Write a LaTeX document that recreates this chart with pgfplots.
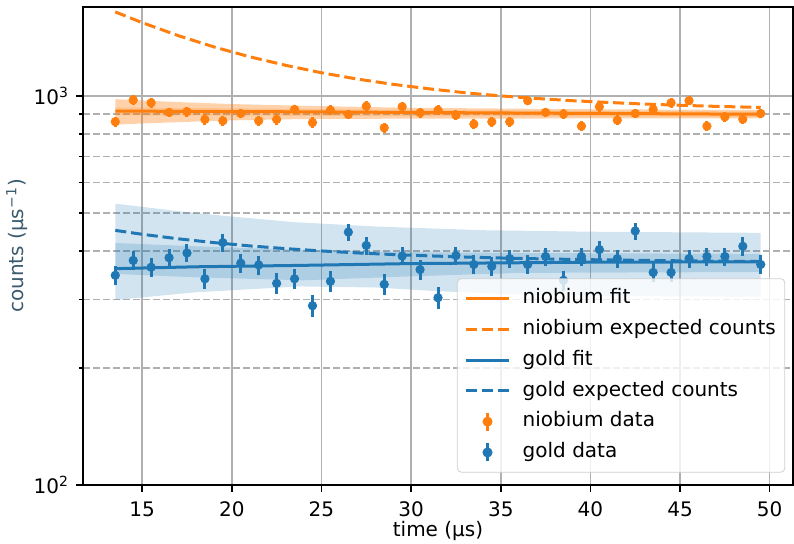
\documentclass[border=0pt]{standalone}
\usepackage{fontspec}
\setmainfont{DejaVu Sans}
\usepackage{pgfplots}
\usepackage{pgfplotstable}
\pgfplotsset{compat=1.18}
\definecolor{tabblue}{HTML}{1F77B4}
\definecolor{taborange}{HTML}{FF7F0E}
\definecolor{gridgray}{HTML}{B0B0B0}
\definecolor{labcol}{HTML}{3B5A6E}

\pgfplotstableread{
t y e
13.5 859 26
14.5 977 27
15.5 961 27
16.5 908 26
17.5 912 26
18.5 871 26
19.5 864 26
20.5 902 26
21.5 864 26
22.5 871 26
23.5 924 26
24.5 855 26
25.5 920 26
26.5 897 26
27.5 942 27
28.5 829 25
29.5 939 27
30.5 906 26
31.5 920 26
32.5 893 26
33.5 847 26
34.5 859 26
35.5 859 26
36.5 973 27
37.5 908 26
38.5 899 26
39.5 837 25
40.5 939 27
41.5 867 26
42.5 902 26
43.5 924 26
44.5 961 27
45.5 973 27
46.5 837 25
47.5 884 26
48.5 872 26
49.5 902 26
}\nbdata

\pgfplotstableread{
t y e
13.5 346 20
14.5 378 21
15.5 363 21
16.5 384 21
17.5 395 21
18.5 339 20
19.5 420 22
20.5 372 21
21.5 368 21
22.5 330 20
23.5 339 20
24.5 289 19
25.5 334 20
26.5 447 23
27.5 413 22
28.5 328 20
29.5 388 21
30.5 358 21
31.5 303 19
32.5 389 21
33.5 369 21
34.5 365 21
35.5 382 21
36.5 369 21
37.5 387 21
38.5 336 20
39.5 387 21
40.5 403 22
41.5 382 21
42.5 450 23
43.5 352 20
44.5 352 20
45.5 382 21
46.5 387 21
47.5 387 21
48.5 411 22
49.5 369 21
}\audata

\begin{document}
\begin{tikzpicture}
\begin{axis}[
  scale only axis, width=355pt, height=239pt,
  ymode=log, xmin=11.7, xmax=51.3, ymin=100, ymax=1695,
  xtick={15,20,...,50},
  ytick={100,1000}, yticklabels={10\textsuperscript{2},10\textsuperscript{3}},
  minor ytick={200,300,400,500,600,700,800,900},
  /pgf/number format/assume math mode=true,
  xticklabel style={yshift=-1.5pt},
  tick pos=left, tick align=outside,
  major tick length=3.5pt, minor tick length=2pt,
  every tick/.style={black, line width=0.8pt},
  axis line style={line width=0.8pt},
  xmajorgrids, ymajorgrids, yminorgrids,
  major grid style={gridgray, line width=0.8pt},
  minor grid style={gridgray, line width=0.8pt, dash pattern=on 3.3pt off 1.7pt},
  xlabel={time (µs)},
  ylabel={counts (µs\textsuperscript{−1})},
  xlabel style={at={(axis description cs:0.5,-0.097)}, anchor=center},
  ylabel style={at={(axis description cs:-0.093,0.5)}, anchor=center, text=labcol},
  legend cell align=left,
  legend style={at={(0.989,0.026)}, anchor=south east, draw=gridgray!60,
    rounded corners=2pt, fill=white, fill opacity=0.8, text opacity=1,
    inner xsep=3.5pt, inner ysep=4pt, row sep=3.7pt,
    /tikz/every odd column/.append style={column sep=5pt},
    nodes={inner sep=1pt, text height=7.5pt, text depth=2.2pt}},
  legend image code/.code={\draw[#1] (0pt,0pt) -- (21.7pt,0pt);},
]
% bands
\addplot[draw=none, fill=tabblue, fill opacity=0.2, forget plot] coordinates {
(13.5,529) (15,519) (17,506) (20,490) (23.5,474) (28,462) (34,452) (40,448) (49.5,445)
(49.5,305) (42,306) (36,309) (31.5,315) (28,322) (23.8,324) (18,313) (13.5,299)} -- cycle;
\addplot[draw=none, fill=tabblue, fill opacity=0.2, forget plot] coordinates {
(13.5,419) (18,411) (24,402) (30,397) (36,395) (49.5,393)
(49.5,353) (36,351) (30,344) (24,336) (18,342) (13.5,349)} -- cycle;
\addplot[draw=none, fill=taborange, fill opacity=0.35, forget plot] coordinates {
(13.5,982) (17,965) (20,954) (24,944) (30,933) (40,925) (49.5,921)
(49.5,876) (40,876) (30,875) (24,873) (20,866) (17,857) (13.5,845)} -- cycle;
\addplot[draw=none, fill=taborange, fill opacity=0.2, forget plot] coordinates {
(13.5,935) (30,922) (49.5,913) (49.5,884) (30,888) (13.5,893)} -- cycle;
% fits
\addplot[taborange, line width=1.5pt] coordinates {
(13.5,915) (24,911) (35,905) (49.5,898)};
\addlegendentry{niobium fit}
\addplot[taborange, line width=1.5pt, dash pattern=on 5.55pt off 2.4pt] coordinates {
(13.5,1646) (15,1545) (17,1431) (19,1338) (21,1262) (23,1200) (25,1148) (27,1106)
(29,1072) (31,1044) (33,1020) (35,1001) (37,986) (39,973) (41,963) (43,954)
(45,947) (47,941) (49.5,935)};
\addlegendentry{niobium expected counts}
\addplot[tabblue, line width=1.5pt] coordinates {
(13.5,360) (18,364) (23.8,367) (30,371) (40,374) (49.5,375)};
\addlegendentry{gold fit}
\addplot[tabblue, line width=1.5pt, dash pattern=on 5.55pt off 2.4pt] coordinates {
(13.5,451.5) (15,441.2) (17,429.6) (19,420) (21,411.9) (23,405.3) (25,399.8)
(27,395.2) (29,391.4) (31,388.3) (33,385.7) (35,383.5) (37,381.7) (39,380.2)
(41,379) (43,378) (45,377.1) (47,376.4) (49.5,375.7)};
\addlegendentry{gold expected counts}
% data
\addplot[taborange, only marks, mark=*, mark size=2.1pt,
  legend image code/.code={\draw[taborange, line width=1.5pt, fill opacity=1, draw opacity=1] (10.85pt,-4.5pt) -- (10.85pt,4.5pt); \fill[taborange, fill opacity=1] (10.85pt,0pt) circle (2.3pt);},
  error bars/.cd, y dir=both, y explicit,
  error bar style={line width=1.5pt, taborange}, error mark=none]
  table[x=t, y=y, y error=e] {\nbdata};
\addlegendentry{niobium data}
\addplot[tabblue, only marks, mark=*, mark size=2.1pt,
  legend image code/.code={\draw[tabblue, line width=1.5pt, fill opacity=1, draw opacity=1] (10.85pt,-4.5pt) -- (10.85pt,4.5pt); \fill[tabblue, fill opacity=1] (10.85pt,0pt) circle (2.3pt);},
  error bars/.cd, y dir=both, y explicit,
  error bar style={line width=1.5pt, tabblue}, error mark=none]
  table[x=t, y=y, y error=e] {\audata};
\addlegendentry{gold data}
\coordinate (sw) at (rel axis cs:0,0);
\coordinate (ne) at (rel axis cs:1,1);
\end{axis}
\pgfresetboundingbox
\path[use as bounding box] ([xshift=-41.5pt,yshift=-29.5pt]sw) rectangle ([xshift=0.5pt,yshift=3.5pt]ne);
\end{tikzpicture}
\end{document}
